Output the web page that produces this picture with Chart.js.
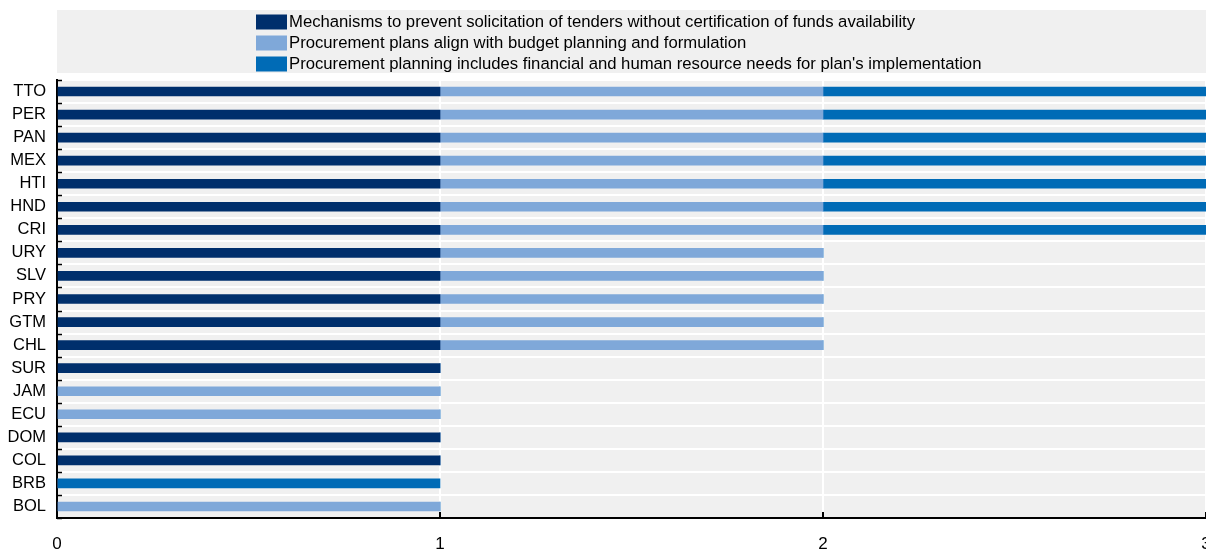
<!DOCTYPE html>
<html><head><meta charset="utf-8">
<script src="https://cdn.jsdelivr.net/npm/chart.js@4.4.1/dist/chart.umd.min.js"></script>
<style>html,body{margin:0;padding:0;background:#fff;overflow:hidden}</style>
</head><body>
<canvas id="c" width="1206" height="551" style="display:block;width:1206px;height:551px"></canvas>
<script>
// ---- data ----
const categories = ['TTO','PER','PAN','MEX','HTI','HND','CRI','URY','SLV','PRY','GTM','CHL','SUR','JAM','ECU','DOM','COL','BRB','BOL'];
const seriesLabels = [
  'Mechanisms to prevent solicitation of tenders without certification of funds availability',
  'Procurement plans align with budget planning and formulation',
  "Procurement planning includes financial and human resource needs for plan's implementation"
];
const mechanisms    = [1,1,1,1,1,1,1,1,1,1,1,1,1,0,0,1,1,0,0];
const alignBudget   = [1,1,1,1,1,1,1,1,1,1,1,1,0,1,1,0,0,0,1];
const resourceNeeds = [1,1,1,1,1,1,1,0,0,0,0,0,0,0,0,0,0,1,0];
const xTickValues = [0,1,2,3];

// ---- styles ----
const colors = ['#002F6C','#7FA8D9','#006BB6'];
const FONT = '"Liberation Sans Narrow","Arial Narrow","Liberation Sans",Arial,sans-serif';
const PLOT_BG = '#F0F0F0';

const bgPlugin = {
  id: 'bg',
  beforeDraw(chart) {
    const {ctx, chartArea: a} = chart;
    ctx.save();
    ctx.fillStyle = PLOT_BG;
    ctx.fillRect(a.left, a.top, a.right - a.left, a.bottom - a.top);
    // legend background
    ctx.fillRect(a.left, 10, a.right - a.left, 63);
    ctx.restore();
  }
};

const innerTicks = {
  id: 'innerTicks',
  afterDraw(chart) {
    const {ctx, chartArea: a, scales} = chart;
    const y = scales.y, x = scales.x;
    ctx.save();
    ctx.strokeStyle = '#000';
    ctx.lineWidth = 1.5;
    const step = y.getPixelForValue(1) - y.getPixelForValue(0);
    for (let i = 0; i <= categories.length; i++) {
      const py = Math.round(y.getPixelForValue(i) - step / 2) + 0.5;
      ctx.beginPath(); ctx.moveTo(a.left, py); ctx.lineTo(a.left + 5, py); ctx.stroke();
    }
    ctx.lineWidth = 2;
    xTickValues.forEach(v => {
      const px = Math.round(x.getPixelForValue(v));
      ctx.beginPath(); ctx.moveTo(px, a.bottom); ctx.lineTo(px, a.bottom - 6); ctx.stroke();
    });
    ctx.restore();
  }
};

const legendPlugin = {
  id: 'customLegend',
  afterDraw(chart) {
    const {ctx} = chart;
    ctx.save();
    ctx.font = '16.7px ' + FONT;
    ctx.textBaseline = 'middle';
    ctx.fillStyle = '#000';
    chart.data.datasets.forEach((ds, i) => {
      const top = 14.5 + i * 21;
      ctx.fillStyle = ds.backgroundColor;
      ctx.fillRect(256, top, 31, 15);
      ctx.fillStyle = '#000';
      ctx.fillText(ds.label, 289, top + 8);
    });
    ctx.restore();
  }
};

new Chart(document.getElementById('c'), {
  type: 'bar',
  data: {
    labels: categories,
    datasets: [
      {label: seriesLabels[0], data: mechanisms, backgroundColor: colors[0]},
      {label: seriesLabels[1], data: alignBudget, backgroundColor: colors[1]},
      {label: seriesLabels[2], data: resourceNeeds, backgroundColor: colors[2]}
    ]
  },
  options: {
    indexAxis: 'y',
    responsive: false,
    animation: false,
    devicePixelRatio: 1,
    barThickness: 9,
    layout: {padding: {top: 80, left: 0, right: 0, bottom: 0}},
    plugins: {legend: {display: false}, tooltip: {enabled: false}, title: {display: false}},
    scales: {
      x: {
        type: 'linear', min: 0, max: 3, stacked: true, position: 'bottom',
        ticks: {stepSize: 1, color: '#000', font: {family: FONT, size: 17}, padding: 16, maxRotation: 0},
        grid: {color: '#FFFFFF', lineWidth: 2, drawTicks: false},
        border: {display: true, color: '#000', width: 2},
        afterFit(s) { s.height = 33; s.paddingRight = 0; s.paddingLeft = 0; }
      },
      y: {
        type: 'category', stacked: true,
        ticks: {color: '#000', font: {family: FONT, size: 16.5}, padding: 11, autoSkip: false},
        grid: {color: '#FFFFFF', lineWidth: 2, drawTicks: false, offset: true},
        border: {display: true, color: '#000', width: 2},
        afterFit(s) { s.width = 57; s.paddingTop = 0; s.paddingBottom = 0; }
      }
    }
  },
  plugins: [bgPlugin, innerTicks, legendPlugin]
});
</script>
</body></html>
